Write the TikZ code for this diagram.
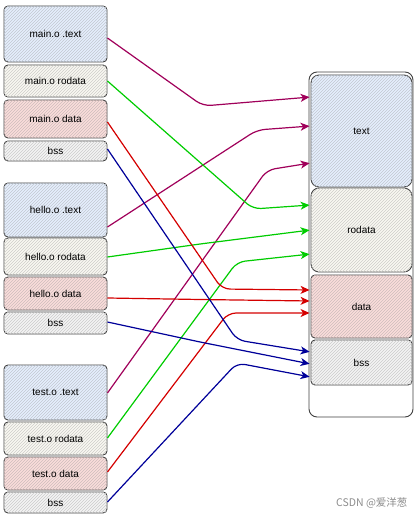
\documentclass[tikz,border=0pt]{standalone}
\usepackage{fontspec}
\setmainfont{Liberation Sans}
\newfontfamily\cjk{Noto Sans CJK SC}
\usetikzlibrary{arrows.meta,patterns}

\definecolor{ftext}{HTML}{DAE8FC}
\definecolor{frodata}{HTML}{F7F5EC}
\definecolor{fdata}{HTML}{F8CECC}
\definecolor{fbss}{HTML}{F0F0F0}
\definecolor{ctext}{HTML}{A0005A}
\definecolor{crodata}{HTML}{00CC00}
\definecolor{cdata}{HTML}{D40000}
\definecolor{cbss}{HTML}{000099}

\tikzset{
  secbox/.style={draw=black!75,line width=0.9pt,rounded corners=4pt,inner sep=0pt,
    minimum width=103pt,fill=#1!70,
    postaction={pattern=north east lines,pattern color=#1!70!black!60}},
  link/.style={draw=#1,line width=1.2pt,rounded corners=8pt,
    -{Stealth[length=9pt,width=8pt,inset=2.5pt]},shorten >=1pt}
}

\begin{document}
\begin{tikzpicture}[x=1pt,y=-1pt,font=\fontsize{10}{12}\selectfont]
  \useasboundingbox (0,0) rectangle (418,521);
  % object files
  \node[secbox=ftext,minimum height=56pt]   (mtext) at (55.5,34)    {main.o .text};
  \node[secbox=frodata,minimum height=32pt] (mro)   at (55.5,81)    {main.o rodata};
  \node[secbox=fdata,minimum height=38pt]   (mdata) at (55.5,119)   {main.o data};
  \node[secbox=fbss,minimum height=20pt]    (mbss)  at (55.5,151)   {bss};
  \node[secbox=ftext,minimum height=54pt]   (htext) at (55.5,210)   {hello.o .text};
  \node[secbox=frodata,minimum height=37pt] (hro)   at (55.5,256.5) {hello.o rodata};
  \node[secbox=fdata,minimum height=33pt]   (hdata) at (55.5,293.5) {hello.o data};
  \node[secbox=fbss,minimum height=22pt]    (hbss)  at (55.5,323)   {bss};
  \node[secbox=ftext,minimum height=55pt]   (ttext) at (55.5,392.5) {test.o .text};
  \node[secbox=frodata,minimum height=33pt] (tro)   at (55.5,438.5) {test.o rodata};
  \node[secbox=fdata,minimum height=33pt]   (tdata) at (55.5,473.5) {test.o data};
  \node[secbox=fbss,minimum height=21pt]    (tbss)  at (55.5,502.5) {bss};
  % linked output
  \node[draw=black!75,line width=0.9pt,rounded corners=8pt,fill=white,
        minimum width=104pt,minimum height=345pt] (out) at (361,244.5) {};
  \node[secbox=ftext,minimum width=101pt,rounded corners=8pt,minimum height=112pt] (rtext) at (361.5,131) {text};
  \node[secbox=frodata,minimum width=101pt,rounded corners=8pt,minimum height=84pt] (rro) at (361.5,230) {rodata};
  \node[secbox=fdata,minimum width=101pt,minimum height=63pt] (rdata) at (361.5,306.5) {data};
  \node[secbox=fbss,minimum width=101pt,minimum height=45pt] (rbss) at (361.5,362.5) {bss};
  % connectors
  \foreach \s/\sy/\bx/\by/\t/\ty/\c in {
      mtext/38/203/106/rtext/97/ctext, htext/227/257/130/rtext/126/ctext,
      ttext/393/267/170/rtext/163/ctext,
      mro/81/253/209/rro/205/crodata, hro/257/200/244/rro/230/crodata,
      tro/438/237/262/rro/254/crodata,
      mdata/122/222/289/rdata/290/cdata, hdata/298/200/299.5/rdata/301/cdata,
      tdata/472/228/313/rdata/313/cdata,
      mbss/149/237/340/rbss/352/cbss, hbss/322/200/342/rbss/364/cbss,
      tbss/502/237/363/rbss/377/cbss}
  {
    \draw[link=\c] (\s.east |- 0,\sy) -- (\bx,\by) -- (\t.west |- 0,\ty);
  }
  \node[text=black!45,anchor=east,font=\cjk\fontsize{10.5}{12}\selectfont] (mark) at (411,503) {CSDN @爱洋葱};
\end{tikzpicture}
\end{document}
